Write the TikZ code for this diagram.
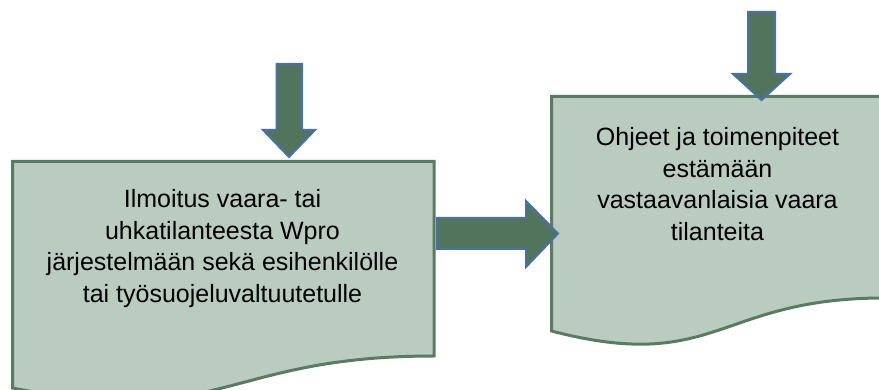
\documentclass[tikz,border=0pt]{standalone}
\usepackage{fontspec}
\newfontfamily\docfont{Liberation Sans}
\definecolor{docfill}{HTML}{B9CCBF}
\definecolor{docline}{HTML}{5A7B62}
\definecolor{arrfill}{HTML}{52745C}
\definecolor{arrline}{HTML}{4A70A6}
\begin{document}
\begin{tikzpicture}[x=1pt,y=-1pt,
  docshape/.style={fill=docfill,draw=docline,line width=3pt,line join=miter},
  blockarrow/.style={fill=arrfill,draw=arrline,line width=2pt,line join=miter},
  doctext/.style={inner sep=0pt, anchor=north, align=center,
    font=\docfont\fontsize{25}{31.5}\selectfont}]
\useasboundingbox (0,0) rectangle (879,390);
\clip (0,0) rectangle (879,390);
% left document
\draw[docshape] (12.5,161.5) -- (434,161.5) -- (434,356) .. controls (223,356) and (223,430) .. (12.5,388) -- cycle;
% right document
\draw[docshape] (551.5,96.5) -- (884,96.5) -- (884,298) .. controls (717,298) and (717,374) .. (551.5,331) -- cycle;
% texts
\node[doctext] (t1) at (222.5,189.5) {Ilmoitus vaara- tai\\uhkatilanteesta Wpro\\järjestelmään sekä esihenkilölle\\tai työsuojeluvaltuutetulle};
\node[doctext] (t2) at (717.5,127.5) {Ohjeet ja toimenpiteet\\estämään\\vastaavanlaisia vaara\\tilanteita};
% arrows
\draw[blockarrow] (276.5,64) -- (302,64) -- (302,130) -- (315,130) -- (289,157) -- (263,130) -- (276.5,130) -- cycle;
\draw[blockarrow] (748,12) -- (775,12) -- (775,74) -- (790,74) -- (761.5,100) -- (733,74) -- (748,74) -- cycle;
\draw[blockarrow] (437,218) -- (526,218) -- (526,201) -- (558,233.5) -- (526,267) -- (526,249) -- (437,249) -- cycle;
\end{tikzpicture}
\end{document}
